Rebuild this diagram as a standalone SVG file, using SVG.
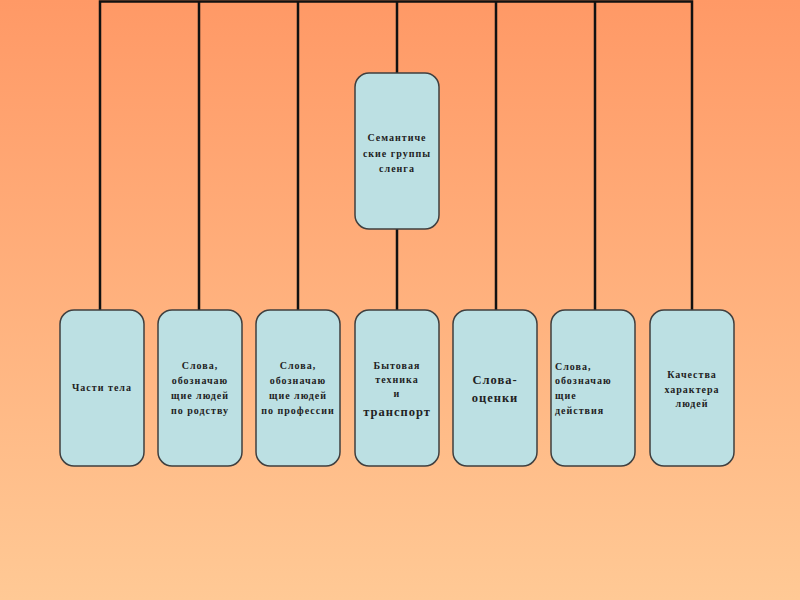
<svg xmlns="http://www.w3.org/2000/svg" width="800" height="600" viewBox="0 0 800 600">
<defs>
<linearGradient id="bg" x1="0" y1="0" x2="0" y2="1">
<stop offset="0" stop-color="#FF9966"/>
<stop offset="1" stop-color="#FFC995"/>
</linearGradient>
<style>
.box{fill:#BCE0E3;stroke:#3f3f3f;stroke-width:1.5}
.ln{stroke:#111;stroke-width:2.5;fill:none}
text{font-family:"Liberation Serif","DejaVu Serif",serif;font-weight:bold;font-size:10px;fill:#222;text-anchor:middle;letter-spacing:1px}
.big{font-size:12.5px}
.l{text-anchor:start}
</style>
</defs>
<rect width="800" height="600" fill="url(#bg)"/>
<g id="connectors">
<path class="ln" d="M100,310 V1.5 H692 V310"/>
<path class="ln" d="M199,1.5 V310 M298,1.5 V310 M397,1.5 V310 M496,1.5 V310 M595,1.5 V310"/>
</g>
<g id="root">
<rect class="box" x="355" y="73" width="84" height="156" rx="14"/>
<text x="397" y="141">Семантиче</text>
<text x="397" y="157">ские группы</text>
<text x="397" y="172">сленга</text>
</g>
<g id="n1">
<rect class="box" x="60" y="310" width="84" height="156" rx="14"/>
<text x="102" y="391">Части тела</text>
</g>
<g id="n2">
<rect class="box" x="158" y="310" width="84" height="156" rx="14"/>
<text x="200" y="369">Слова,</text>
<text x="200" y="384">обозначаю</text>
<text x="200" y="399">щие людей</text>
<text x="200" y="414">по родству</text>
</g>
<g id="n3">
<rect class="box" x="256" y="310" width="84" height="156" rx="14"/>
<text x="298" y="369">Слова,</text>
<text x="298" y="384">обозначаю</text>
<text x="298" y="399">щие людей</text>
<text x="298" y="414">по профессии</text>
</g>
<g id="n4">
<rect class="box" x="355" y="310" width="84" height="156" rx="14"/>
<text x="397" y="369">Бытовая</text>
<text x="397" y="383">техника</text>
<text x="397" y="397">и</text>
<text class="big" x="397" y="416">транспорт</text>
</g>
<g id="n5">
<rect class="box" x="453" y="310" width="84" height="156" rx="14"/>
<text class="big" x="495" y="384">Слова-</text>
<text class="big" x="495" y="402">оценки</text>
</g>
<g id="n6">
<rect class="box" x="551" y="310" width="84" height="156" rx="14"/>
<text class="l" x="555" y="370">Слова,</text>
<text class="l" x="555" y="384">обозначаю</text>
<text class="l" x="555" y="399">щие</text>
<text class="l" x="555" y="414">действия</text>
</g>
<g id="n7">
<rect class="box" x="650" y="310" width="84" height="156" rx="14"/>
<text x="692" y="378">Качества</text>
<text x="692" y="393">характера</text>
<text x="692" y="407">людей</text>
</g>
</svg>
